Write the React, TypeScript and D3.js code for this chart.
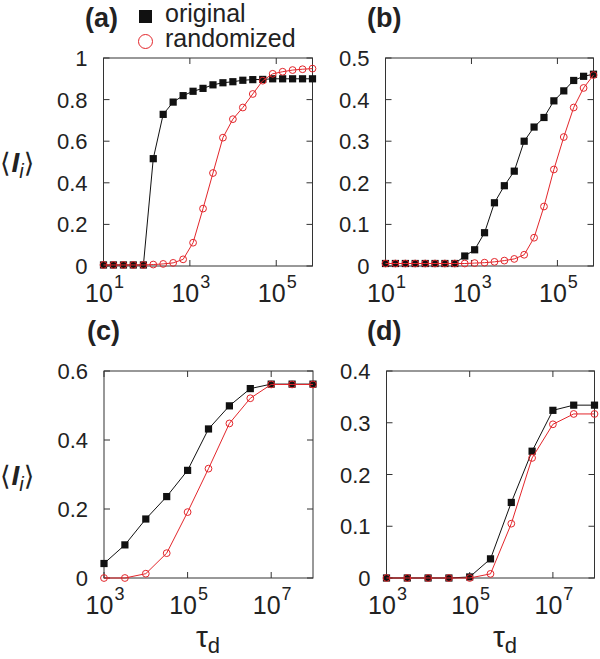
import React from 'react';
import * as d3 from 'd3';

// x grids
const xAB = [10, 17, 29, 49, 84, 142, 241, 410, 698, 1186, 2016, 3428, 5827, 9906, 16840, 28629, 48669, 82737, 140653, 239110, 406487, 691028];
const xCD = [1e3, 3162, 1e4, 31623, 1e5, 316228, 1e6, 3162278, 1e7, 31622777, 1e8];

// series values
const aOriginal = [0.005, 0.005, 0.005, 0.005, 0.005, 0.516, 0.729, 0.788, 0.819, 0.84, 0.854, 0.871, 0.881, 0.886, 0.893, 0.896, 0.897, 0.9, 0.9, 0.9, 0.9, 0.9];
const aRandomized = [0.005, 0.005, 0.005, 0.005, 0.005, 0.007, 0.01, 0.015, 0.032, 0.112, 0.276, 0.447, 0.617, 0.706, 0.762, 0.827, 0.891, 0.924, 0.934, 0.942, 0.946, 0.949];
const bOriginal = [0.006, 0.006, 0.006, 0.006, 0.006, 0.006, 0.006, 0.006, 0.024, 0.039, 0.08, 0.152, 0.193, 0.228, 0.3, 0.334, 0.357, 0.397, 0.421, 0.446, 0.456, 0.461];
const bRandomized = [0.006, 0.006, 0.006, 0.006, 0.006, 0.006, 0.006, 0.006, 0.006, 0.007, 0.008, 0.01, 0.013, 0.017, 0.027, 0.068, 0.143, 0.232, 0.31, 0.381, 0.428, 0.459];
const cOriginal = [0.042, 0.096, 0.171, 0.236, 0.312, 0.432, 0.499, 0.549, 0.562, 0.562, 0.562];
const cRandomized = [0, 0, 0.0125, 0.072, 0.191, 0.317, 0.448, 0.521, 0.561, 0.561, 0.561];
const dOriginal = [0, 0, 0, 0, 0.002, 0.037, 0.146, 0.245, 0.324, 0.334, 0.334];
const dRandomized = [0, 0, 0, 0, 0, 0.008, 0.105, 0.232, 0.297, 0.317, 0.317];

// ticks
const yTicksA = [0, 0.2, 0.4, 0.6, 0.8, 1];
const yLabelsA = ['0', '0.2', '0.4', '0.6', '0.8', '1'];
const yTicksB = [0, 0.1, 0.2, 0.3, 0.4, 0.5];
const yLabelsB = ['0', '0.1', '0.2', '0.3', '0.4', '0.5'];
const yTicksC = [0, 0.2, 0.4, 0.6];
const yLabelsC = ['0', '0.2', '0.4', '0.6'];
const yTicksD = [0, 0.1, 0.2, 0.3, 0.4];
const yLabelsD = ['0', '0.1', '0.2', '0.3', '0.4'];
const xTicksAB = [10, 1e3, 1e5];
const xExpAB = ['1', '3', '5'];
const xTicksCD = [1e3, 1e5, 1e7];
const xExpCD = ['3', '5', '7'];

const legendLabels = ['original', 'randomized'];

const RED = '#e3262b';
const FONT = "'Liberation Sans', Arial, sans-serif";

type PanelProps = {
  left: number; top: number; width: number; height: number;
  xDomain: [number, number]; yDomain: [number, number];
  xs: number[]; orig: number[]; rand: number[];
  yTicks: number[]; yLabels: string[]; xTicks: number[]; xExps: string[];
  label: string; labelX: number;
  yLabel?: boolean; xLabelX?: number;
};

function Panel(p: PanelProps) {
  const x = d3.scaleLog().domain(p.xDomain).range([p.left, p.left + p.width]);
  const y = d3.scaleLinear().domain(p.yDomain).range([p.top + p.height, p.top]);
  const line = d3.line<[number, number]>().x(d => x(d[0])).y(d => y(d[1]));
  const origPts: [number, number][] = p.xs.map((v, i) => [v, p.orig[i]]);
  const randPts: [number, number][] = p.xs.map((v, i) => [v, p.rand[i]]);
  const bottom = p.top + p.height;
  const right = p.left + p.width;
  const tl = 6;
  return (
    <g>
      <text x={p.labelX} y={p.top - 31.5} fontFamily={FONT} fontWeight="bold" fontSize={27} fill="#222">{p.label}</text>
      {p.xTicks.map((t, i) => (
        <g key={'xt' + i}>
          <line x1={x(t)} x2={x(t)} y1={bottom} y2={bottom - tl} stroke="#333" />
          <line x1={x(t)} x2={x(t)} y1={p.top} y2={p.top + tl} stroke="#333" />
          <text x={x(t) + 1} y={bottom + 36} textAnchor="middle" fontFamily={FONT} fontSize={25} fill="#222">
            <tspan>10</tspan><tspan fontSize={18} dy={-14} dx={1}>{p.xExps[i]}</tspan>
          </text>
        </g>
      ))}
      {p.yTicks.map((t, i) => (
        <g key={'yt' + i}>
          <line x1={p.left} x2={p.left + tl} y1={y(t)} y2={y(t)} stroke="#333" />
          <line x1={right} x2={right - tl} y1={y(t)} y2={y(t)} stroke="#333" />
          <text x={p.left - 16} y={y(t) + 8} textAnchor="end" fontFamily={FONT} fontSize={22} fill="#222">{p.yLabels[i]}</text>
        </g>
      ))}
      <rect x={p.left} y={p.top} width={p.width} height={p.height} fill="none" stroke="#333" strokeWidth={1} />
      <path d={line(origPts) || ''} fill="none" stroke="#111" strokeWidth={1} />
      {origPts.map((d, i) => (
        <rect key={'o' + i} x={x(d[0]) - 3.6} y={y(d[1]) - 3.6} width={7.2} height={7.2} fill="#111" />
      ))}
      <path d={line(randPts) || ''} fill="none" stroke={RED} strokeWidth={1} />
      {randPts.map((d, i) => (
        <circle key={'r' + i} cx={x(d[0])} cy={y(d[1])} r={3.4} fill="none" stroke={RED} strokeWidth={1} />
      ))}
      {p.yLabel && (
        <text x={0} y={(p.top + bottom) / 2 + 10} fontFamily={FONT} fontSize={28} fill="#222">
          <tspan fontFamily="'DejaVu Sans', sans-serif" fontSize={27}>⟨</tspan>
          <tspan fontWeight="bold" fontStyle="italic" dx={1}>I</tspan>
          <tspan fontStyle="italic" fontSize={20} dy={6}>i</tspan>
          <tspan fontFamily="'DejaVu Sans', sans-serif" fontSize={27} dy={-6}>⟩</tspan>
        </text>
      )}
      {p.xLabelX !== undefined && (
        <text x={p.xLabelX} y={647} textAnchor="middle" fontFamily={FONT} fontSize={30} fill="#222">
          <tspan>τ</tspan><tspan fontSize={22} dy={6}>d</tspan>
        </text>
      )}
    </g>
  );
}

export default function App() {
  const w = 209;
  const h = 208;
  return (
    <svg width={600} height={659} style={{ position: 'absolute', left: 0, top: 0, background: '#fff' }}>
      <rect width={600} height={659} fill="#fff" />
      <Panel left={103.5} top={58} width={w} height={h} xDomain={[10, 691028]} yDomain={[0, 1]}
        xs={xAB} orig={aOriginal} rand={aRandomized} yTicks={yTicksA} yLabels={yLabelsA}
        xTicks={xTicksAB} xExps={xExpAB} label="(a)" labelX={85} yLabel />
      <Panel left={385.5} top={58} width={w - 1} height={h} xDomain={[10, 691028]} yDomain={[0, 0.5]}
        xs={xAB} orig={bOriginal} rand={bRandomized} yTicks={yTicksB} yLabels={yLabelsB}
        xTicks={xTicksAB} xExps={xExpAB} label="(b)" labelX={367} />
      <Panel left={104} top={371} width={w} height={h - 1} xDomain={[1e3, 1e8]} yDomain={[0, 0.6]}
        xs={xCD} orig={cOriginal} rand={cRandomized} yTicks={yTicksC} yLabels={yLabelsC}
        xTicks={xTicksCD} xExps={xExpCD} label="(c)" labelX={87} yLabel xLabelX={208} />
      <Panel left={386.5} top={371} width={w - 1} height={h - 1} xDomain={[1e3, 1e8]} yDomain={[0, 0.4]}
        xs={xCD} orig={dOriginal} rand={dRandomized} yTicks={yTicksD} yLabels={yLabelsD}
        xTicks={xTicksCD} xExps={xExpCD} label="(d)" labelX={367} xLabelX={505} />
      {/* legend */}
      <rect x={139} y={10} width={13} height={13} fill="#111" />
      <circle cx={145.5} cy={41.5} r={7} fill="none" stroke={RED} strokeWidth={1} />
      <text x={165} y={22} fontFamily={FONT} fontSize={25} fill="#222">{legendLabels[0]}</text>
      <text x={165} y={47} fontFamily={FONT} fontSize={25} fill="#222">{legendLabels[1]}</text>
    </svg>
  );
}
